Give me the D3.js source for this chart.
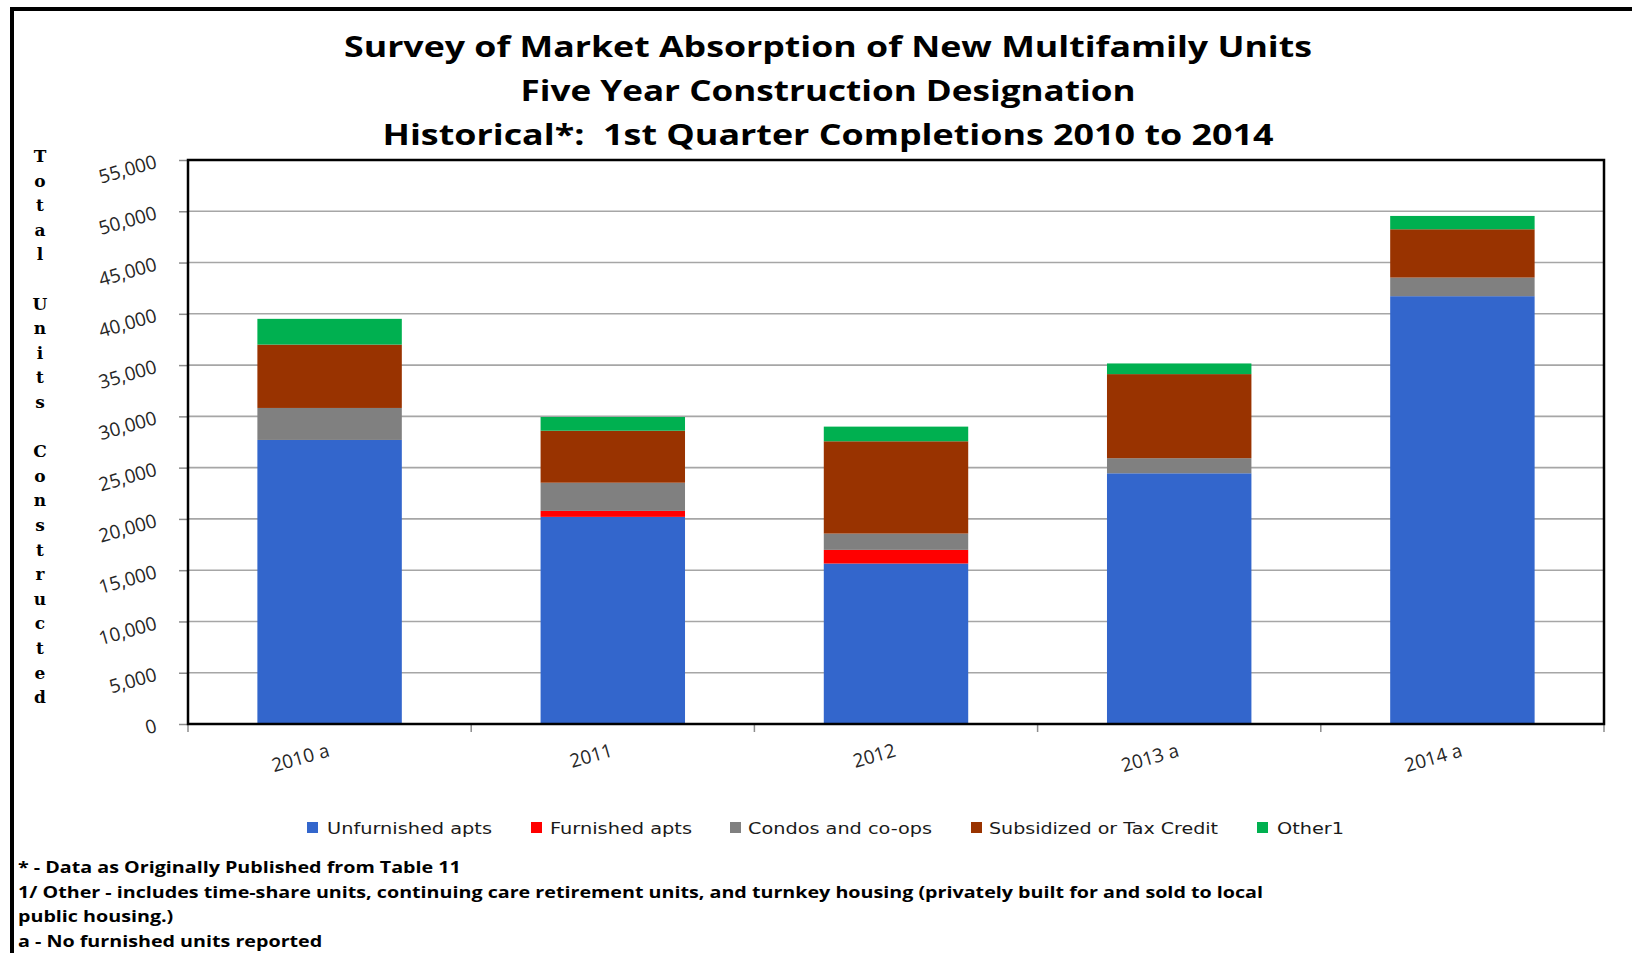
<!DOCTYPE html>
<html><head><meta charset="utf-8">
<script src="https://cdn.jsdelivr.net/npm/d3@7"></script>
<style>body{margin:0;background:#fff} svg{display:block}</style>
</head><body><svg id="c" width="1632" height="953"></svg>
<script>
// ---- data ----
const categories = ["2010 a", "2011", "2012", "2013 a", "2014 a"];
const unfurnishedApts = [27700, 20200, 15650, 24450, 41720];
const furnishedApts = [0, 580, 1330, 0, 0];
const condosCoops = [3120, 2750, 1590, 1470, 1815];
const subsidizedTaxCredit = [6180, 5070, 9000, 8200, 4710];
const other1 = [2510, 1340, 1430, 1040, 1300];
const seriesNames = ["Unfurnished apts", "Furnished apts", "Condos and co-ops", "Subsidized or Tax Credit", "Other1"];
const yTicks = [0, 5000, 10000, 15000, 20000, 25000, 30000, 35000, 40000, 45000, 50000, 55000];
const titleLines = [
  "Survey of Market Absorption of New Multifamily Units",
  "Five Year Construction Designation",
  "Historical*:  1st Quarter Completions 2010 to 2014"
];
const yAxisTitle = "Total Units Constructed";
const footnotes = [
  "* - Data as Originally Published from Table 11",
  "1/ Other - includes time-share units, continuing care retirement units, and turnkey housing (privately built for and sold to local",
  "public housing.)",
  "a - No furnished units reported"
];

// ---- styles ----
const colors = ["#3366CC", "#FF0000", "#808080", "#993300", "#00B050"];
const svg = d3.select("#c");
svg.append("rect").attr("width", 1632).attr("height", 953).attr("fill", "#fff");

const L = 188, R = 1604, T = 160, B = 724;
const x = d3.scaleBand().domain(categories).range([L, R]).paddingInner(0.49).paddingOuter(0.245);
const y = d3.scaleLinear().domain([0, 55000]).range([B, T]);

// outer border
svg.append("line").attr("x1", 10).attr("x2", 1632).attr("y1", 9).attr("y2", 9).attr("stroke", "#000").attr("stroke-width", 4);
svg.append("line").attr("x1", 12).attr("x2", 12).attr("y1", 7).attr("y2", 953).attr("stroke", "#000").attr("stroke-width", 4);

// title
const titleW = [968, 615, 891];
const titleY = [57, 101, 145];
svg.append("g").selectAll("text").data(titleLines).join("text")
  .attr("x", 828).attr("y", (d, i) => titleY[i])
  .attr("text-anchor", "middle")
  .attr("textLength", (d, i) => titleW[i]).attr("lengthAdjust", "spacingAndGlyphs")
  .style("white-space", "pre")
  .attr("font-family", "'Open Sans', sans-serif").attr("font-weight", 700).attr("font-size", 29)
  .attr("fill", "#000").text(d => d);

// gridlines
svg.append("g").selectAll("line").data(yTicks.filter(v => v > 0 && v < 55000)).join("line")
  .attr("x1", L).attr("x2", R).attr("y1", d => y(d)).attr("y2", d => y(d))
  .attr("stroke", "#a6a6a6").attr("stroke-width", 1.6);

// bars
const rows = categories.map((c, i) => ({
  cat: c,
  [seriesNames[0]]: unfurnishedApts[i],
  [seriesNames[1]]: furnishedApts[i],
  [seriesNames[2]]: condosCoops[i],
  [seriesNames[3]]: subsidizedTaxCredit[i],
  [seriesNames[4]]: other1[i]
}));
const stacked = d3.stack().keys(seriesNames)(rows);
svg.append("g").selectAll("g").data(stacked).join("g")
  .attr("fill", (d, i) => colors[i])
  .selectAll("rect").data(d => d).join("rect")
  .attr("x", d => x(d.data.cat)).attr("width", x.bandwidth())
  .attr("y", d => y(d[1])).attr("height", d => y(d[0]) - y(d[1]));

// y axis
const yAxis = svg.append("g").attr("transform", `translate(${L},0)`)
  .call(d3.axisLeft(y).tickValues(yTicks).tickSize(9).tickSizeOuter(0).tickFormat(d3.format(",")));
yAxis.select(".domain").remove();
yAxis.selectAll(".tick line").attr("stroke", "#8c8c8c").attr("stroke-width", 1.5);
yAxis.selectAll(".tick text")
  .attr("x", null).attr("dy", null)
  .attr("text-anchor", "end")
  .attr("transform", "translate(-30,7) rotate(-16)")
  .attr("font-family", "'Open Sans', sans-serif").attr("font-size", 19).attr("fill", "#262626");

// x axis
const xAxis = svg.append("g").attr("transform", `translate(0,${B})`)
  .call(d3.axisBottom(x).tickSize(0).tickSizeOuter(0));
xAxis.select(".domain").remove();
xAxis.selectAll(".tick text")
  .attr("y", null).attr("dy", null)
  .attr("text-anchor", "end")
  .attr("transform", "translate(1,32) rotate(-16)")
  .attr("font-family", "'Open Sans', sans-serif").attr("font-size", 19).attr("fill", "#262626");
const bounds = d3.range(categories.length + 1).map(i => L + i * x.step());
svg.append("g").selectAll("line").data(bounds).join("line")
  .attr("x1", d => d).attr("x2", d => d).attr("y1", B).attr("y2", B + 8)
  .attr("stroke", "#8c8c8c").attr("stroke-width", 1.5);

// plot frame
svg.append("rect").attr("x", L).attr("y", T).attr("width", R - L).attr("height", B - T)
  .attr("fill", "none").attr("stroke", "#000").attr("stroke-width", 2.5);

// y axis title (stacked letters)
svg.append("g").selectAll("text").data(yAxisTitle.split("")).join("text")
  .attr("x", 40).attr("y", (d, i) => 162 + i * 24.6)
  .attr("text-anchor", "middle")
  .attr("font-family", "'DejaVu Serif', serif").attr("font-weight", 700).attr("font-size", 17)
  .attr("fill", "#000").text(d => d);

// legend
const legX = [307, 531, 730, 971, 1257];
const legTX = [327, 550, 748, 989, 1277];
const legW = [165, 142, 184, 229, 67];
const leg = svg.append("g");
leg.selectAll("rect").data(seriesNames).join("rect")
  .attr("x", (d, i) => legX[i]).attr("y", 822).attr("width", 11).attr("height", 11)
  .attr("fill", (d, i) => colors[i]);
leg.selectAll("text").data(seriesNames).join("text")
  .attr("x", (d, i) => legTX[i]).attr("y", 834)
  .attr("textLength", (d, i) => legW[i]).attr("lengthAdjust", "spacingAndGlyphs")
  .attr("font-family", "'DejaVu Sans', sans-serif").attr("font-size", 16)
  .attr("fill", "#1a1a1a").text(d => d);

// footnotes
const fn = svg.append("g");
const fnY = [873, 898, 922, 947];
const fnText = fn.selectAll("text").data(footnotes).join("text")
  .attr("x", 18).attr("y", (d, i) => fnY[i])
  .attr("font-family", "'Open Sans', sans-serif").attr("font-weight", 700).attr("font-size", 16)
  .attr("fill", "#000").text(d => d);
const nat = fnText.nodes().map(n => n.getComputedTextLength());
const k = 1245 / nat[1];
fnText.attr("textLength", (d, i) => nat[i] * k).attr("lengthAdjust", "spacingAndGlyphs");
</script>
</body></html>
